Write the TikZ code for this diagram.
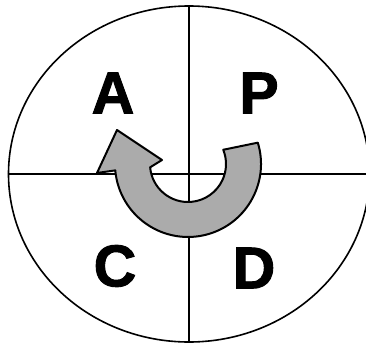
\documentclass[tikz,border=0pt]{standalone}
\usepackage{fontspec}
\setmainfont{Liberation Sans}
\newfontfamily\heavyfont[FakeBold=1.6]{Liberation Sans Bold}
\usepackage{xcolor}
\usepackage{tikz}
\usetikzlibrary{calc,shapes.geometric}

\begin{document}
\begin{tikzpicture}[x=1pt,y=1pt,
  ring/.style={draw,ellipse,line width=1.6pt,minimum width=361pt,minimum height=336pt,inner sep=0pt},
  divider/.style={line width=1.2pt},
  letter/.style={font=\fontsize{59}{64}\heavyfont,inner sep=0pt},
  turnarrow/.style={draw,line width=2pt,line join=round,fill=black!33}
]
\useasboundingbox (0,0) rectangle (366,346);

\node[ring] (ring) at (189,172) {};
\draw[divider] (ring.north) -- (ring.south);
\draw[divider] (ring.west) -- (ring.east);

\node[letter] (act) at (113,253) {A};
\node[letter] (plan) at (259,253) {P};
\node[letter] (check) at (115,80) {C};
\node[letter] (do) at (254,78) {D};

% curved arrow, centre (188,182)
\coordinate (hub) at (188,182);
\draw[turnarrow] ($(hub)+(17:73)$) arc[start angle=17,end angle=-175,radius=73pt]
  -- (97,173) -- (117,216) -- (162,186)
  -- ($(hub)+(-175:38)$) arc[start angle=-175,end angle=22,radius=38pt] -- cycle;
\end{tikzpicture}
\end{document}
